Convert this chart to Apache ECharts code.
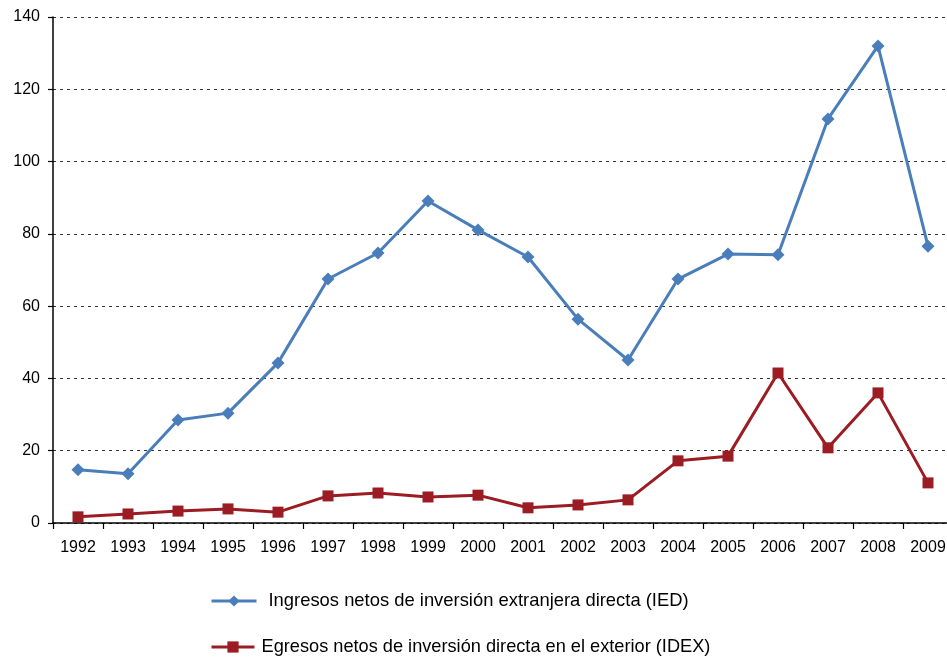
<!DOCTYPE html>
<html>
<head>
<meta charset="utf-8">
<script src="https://cdn.jsdelivr.net/npm/echarts@6/dist/echarts.min.js"></script>
<style>html,body{margin:0;padding:0;background:#fff;overflow:hidden;}#c{width:947px;height:657px;}</style>
</head>
<body>
<div id="c"></div>
<script>
var years = ['1992','1993','1994','1995','1996','1997','1998','1999','2000','2001','2002','2003','2004','2005','2006','2007','2008','2009'];
var ied = [14.7,13.6,28.5,30.4,44.3,67.5,74.7,89.1,81.1,73.6,56.4,45.1,67.5,74.4,74.2,111.8,132.0,76.6];
var idex = [1.7,2.5,3.3,3.9,3.0,7.5,8.3,7.2,7.7,4.2,5.0,6.4,17.2,18.5,41.5,20.8,36.0,11.1];
var nameIED = 'Ingresos netos de inversión extranjera directa (IED)';
var nameIDEX = 'Egresos netos de inversión directa en el exterior (IDEX)';

var chart = echarts.init(document.getElementById('c'), null, {renderer:'canvas'});
var font = 'Liberation Sans, Arial, Helvetica, sans-serif';
chart.setOption({
  animation: false,
  textStyle: {fontFamily: font},
  grid: {left: 53, top: 17, width: 900, bottom: 134, containLabel: false, outerBoundsMode: 'none'},
  legend: [
    {data: [nameIED], orient: 'vertical', left: 210, top: 592, padding: 0, itemWidth: 45, itemHeight: 14, itemGap: 0,
     lineStyle: {width: 3},
     textStyle: {fontSize: 18.4, color: '#000', fontFamily: font, padding: [0,0,0,7]}},
    {data: [nameIDEX], orient: 'vertical', left: 210, top: 638, padding: 0, itemWidth: 43, itemHeight: 14, itemGap: 0,
     lineStyle: {width: 3},
     textStyle: {fontSize: 18.2, color: '#000', fontFamily: font, padding: [0,0,0,2]}}
  ],
  xAxis: {
    type: 'category', data: years, boundaryGap: true,
    axisLine: {lineStyle: {color: '#000', width: 1.5}},
    axisTick: {show: true, length: 6, alignWithLabel: false, lineStyle: {color: '#000', width: 1.2}},
    axisLabel: {color: '#000', fontSize: 16, margin: 17, interval: 0, fontFamily: font},
    splitLine: {show: false}
  },
  yAxis: {
    type: 'value', min: 0, max: 140, interval: 20,
    axisLine: {show: true, lineStyle: {color: '#000', width: 1.5}},
    axisTick: {show: true, length: 5, lineStyle: {color: '#000', width: 1.2}},
    axisLabel: {color: '#000', fontSize: 16, margin: 13, fontFamily: font},
    splitLine: {show: true, lineStyle: {color: '#333', type: [3,4], width: 1}}
  },
  series: [
    {name: nameIED, type: 'line', data: ied, symbol: 'diamond', symbolSize: 13,
     itemStyle: {color: '#4a7ebb'}, lineStyle: {color: '#4a7ebb', width: 3}},
    {name: nameIDEX, type: 'line', data: idex, symbol: 'rect', symbolSize: 11,
     itemStyle: {color: '#9b1c22'}, lineStyle: {color: '#9b1c22', width: 3}}
  ]
});
</script>
</body>
</html>
